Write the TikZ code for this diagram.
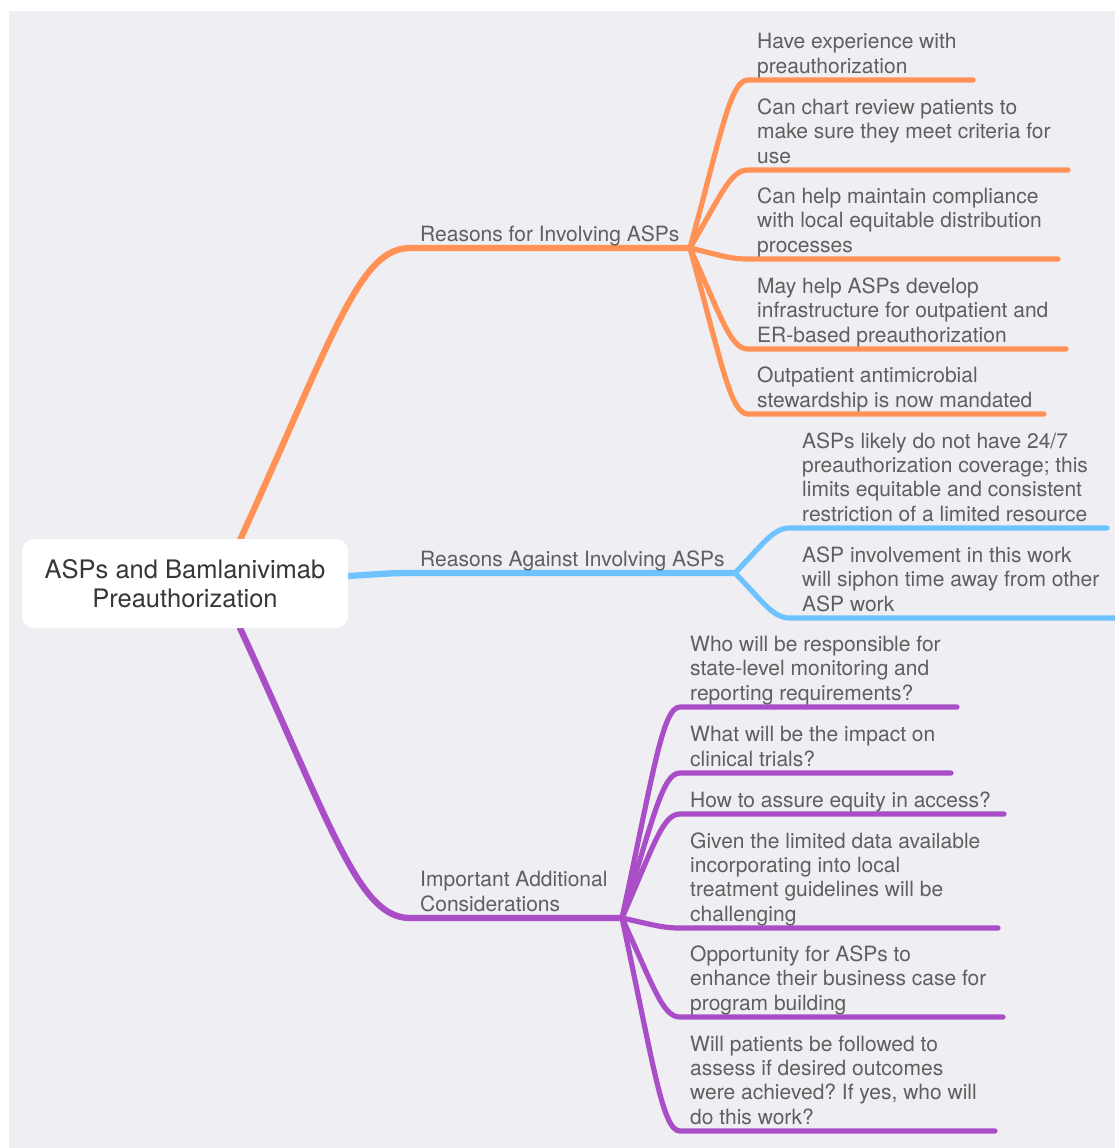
\documentclass[tikz,border=0pt]{standalone}
\usepackage{fontspec}
\setmainfont{TeX Gyre Heros}
\usetikzlibrary{calc}
\frenchspacing
\definecolor{bgcol}{RGB}{238,238,243}
\definecolor{orangec}{RGB}{255,146,84}
\definecolor{bluec}{RGB}{110,195,255}
\definecolor{purplec}{RGB}{170,78,200}
\definecolor{txtc}{RGB}{95,95,95}
\definecolor{roottxt}{RGB}{55,55,55}
\pgfdeclarelayer{back}
\pgfdeclarelayer{mid}
\pgfsetlayers{back,mid,main}
\newcommand\firstline{\rule{0pt}{16pt}}
\tikzset{
  leaf/.style={anchor=north west, inner sep=0pt, align=left, text=txtc,
    font=\fontsize{21}{24.3}\selectfont},
  rootbox/.style={rectangle, rounded corners=12pt, fill=white, inner sep=0pt,
    minimum width=326pt, minimum height=89pt},
  rootlabel/.style={anchor=north, inner sep=0pt, align=center, text=roottxt,
    font=\fontsize{25.5}{29}\selectfont},
  mainline/.style={line width=6.3pt, line cap=round},
  subline/.style={line width=5.2pt, line cap=round},
  mmcurve/.style={to path={let \p1=(\tikztostart), \p2=(\tikztotarget) in
    .. controls ({\x1+0.55*(\x2-\x1)},{\y1+0.7*(\y2-\y1)}) and ({\x1+0.7*(\x2-\x1)},\y2) .. (\tikztotarget) \tikztonodes}},
}
\begin{document}
\begin{tikzpicture}[x=1pt,y=-1pt]
\useasboundingbox (0,0) rectangle (1115,1148);
\begin{pgfonlayer}{back}
\fill[white] (0,0) rectangle (1115,1148);
\fill[bgcol] (9,11) rectangle (1115,1148);
\end{pgfonlayer}

% root
\node[rootbox] (root) at (185,583.5) {};
\node[rootlabel] (rootl) at (185,559) {\rule{0pt}{19pt}ASPs and Bamlanivimab\\Preauthorization};

% branch labels
\node[leaf] (oL) at (420,225) {\firstline Reasons for Involving ASPs};
\node[leaf] (bL) at (420,550) {\firstline Reasons Against Involving ASPs};
\node[leaf] (pL) at (420,870.7) {\firstline Important Additional\\Considerations};

% orange leaves
\node[leaf] (o1) at (757,32.7) {\firstline Have experience with\\preauthorization};
\node[leaf] (o2) at (757,98.4) {\firstline Can chart review patients to\\make sure they meet criteria for\\use};
\node[leaf] (o3) at (757,187.4) {\firstline Can help maintain compliance\\with local equitable distribution\\processes};
\node[leaf] (o4) at (757,277.4) {\firstline May help ASPs develop\\infrastructure for outpatient and\\ER-based preauthorization};
\node[leaf] (o5) at (757,366.7) {\firstline Outpatient antimicrobial\\stewardship is now mandated};

% blue leaves
\node[leaf] (b1) at (802,432.1) {\firstline ASPs likely do not have 24/7\\preauthorization coverage; this\\limits equitable and consistent\\restriction of a limited resource};
\node[leaf] (b2) at (802,546.4) {\firstline ASP involvement in this work\\will siphon time away from other\\ASP work};

% purple leaves
\node[leaf] (p1) at (690,635.4) {\firstline Who will be responsible for\\state-level monitoring and\\reporting requirements?};
\node[leaf] (p2) at (690,725.7) {\firstline What will be the impact on\\clinical trials?};
\node[leaf] (p3) at (690,791) {\firstline How to assure equity in access?};
\node[leaf] (p4) at (690,832.1) {\firstline Given the limited data available\\incorporating into local\\treatment guidelines will be\\challenging};
\node[leaf] (p5) at (690,945.4) {\firstline Opportunity for ASPs to\\enhance their business case for\\program building};
\node[leaf] (p6) at (690,1035.1) {\firstline Will patients be followed to\\assess if desired outcomes\\were achieved? If yes, who will\\do this work?};

% coordinates
\coordinate (oA) at (240,540); \coordinate (oB) at (410,248); \coordinate (oF) at (690,248);
\coordinate (bA) at (348,576); \coordinate (bB) at (410,573); \coordinate (bF) at (735,573);
\coordinate (pA) at (240,628); \coordinate (pB) at (410,918); \coordinate (pF) at (622,918);

\coordinate (o1s) at (748,80);  \coordinate (o1e) at (973,80);
\coordinate (o2s) at (748,170); \coordinate (o2e) at (1068,170);
\coordinate (o3s) at (748,259); \coordinate (o3e) at (1058,259);
\coordinate (o4s) at (748,349); \coordinate (o4e) at (1066,349);
\coordinate (o5s) at (748,414); \coordinate (o5e) at (1044,414);

\coordinate (b1s) at (790,528); \coordinate (b1e) at (1107,528);
\coordinate (b2s) at (790,618); \coordinate (b2e) at (1118,618);

\coordinate (p1s) at (680,707);  \coordinate (p1e) at (957,707);
\coordinate (p2s) at (680,773);  \coordinate (p2e) at (951,773);
\coordinate (p3s) at (680,814);  \coordinate (p3e) at (1004,814);
\coordinate (p4s) at (680,928);  \coordinate (p4e) at (998,928);
\coordinate (p5s) at (680,1017); \coordinate (p5e) at (1003,1017);
\coordinate (p6s) at (680,1131); \coordinate (p6e) at (995,1131);

\begin{pgfonlayer}{mid}
\draw[mainline, orangec] (oA) to[mmcurve] (oB) -- (oF);
\draw[mainline, bluec] (bA) to[mmcurve] (bB) -- (bF);
\draw[mainline, purplec] (pA) to[mmcurve] (pB) -- (pF);
\foreach \i in {1,...,5} \draw[subline, orangec] (oF) to[mmcurve] (o\i s) -- (o\i e);
\foreach \i in {1,2} \draw[subline, bluec] (bF) to[mmcurve] (b\i s) -- (b\i e);
\foreach \i in {1,...,6} \draw[subline, purplec] (pF) to[mmcurve] (p\i s) -- (p\i e);
\end{pgfonlayer}
\end{tikzpicture}
\end{document}
